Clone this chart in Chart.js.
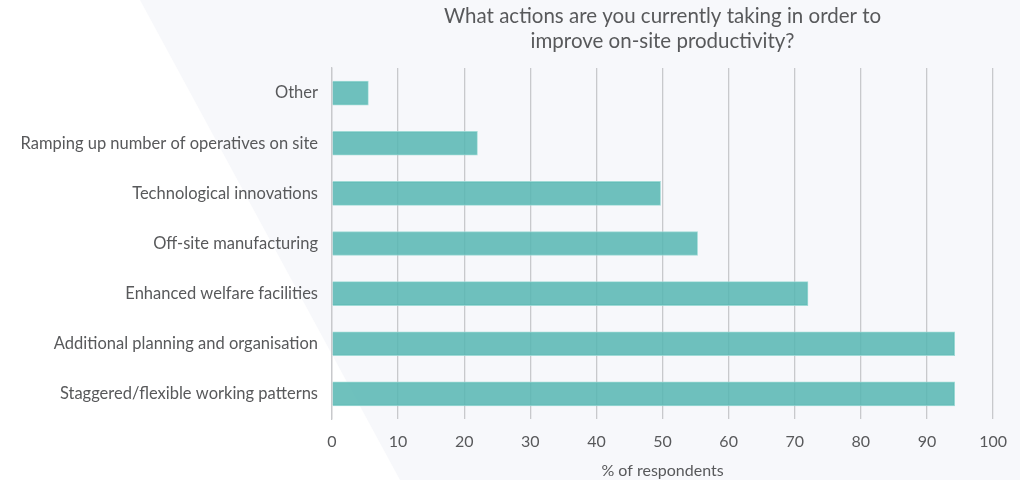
<!DOCTYPE html>
<html>
<head>
<meta charset="utf-8">
<script src="https://cdn.jsdelivr.net/npm/chart.js@4/dist/chart.umd.min.js"></script>
<style>
  html, body { margin: 0; padding: 0; background: #f7f8fb; }
  #wrap { width: 1020px; height: 480px; }
</style>
</head>
<body>
<div id="wrap"><canvas id="actionsChart" width="1020" height="480"></canvas></div>
<script>
const categories = [
  'Other',
  'Ramping up number of operatives on site',
  'Technological innovations',
  'Off-site manufacturing',
  'Enhanced welfare facilities',
  'Additional planning and organisation',
  'Staggered/flexible working patterns',
];
const respondents = [5.5, 22, 49.7, 55.3, 72, 94.2, 94.2];
const xTicks = [0, 10, 20, 30, 40, 50, 60, 70, 80, 90, 100];

const textColor = '#58595b';
const gridColor = '#c8c9cc';

// soft white wedge behind the chart, like the source slide
const backdrop = {
  id: 'backdrop',
  beforeDraw(chart) {
    const { ctx, width, height } = chart;
    ctx.save();
    ctx.fillStyle = '#f7f8fb';
    ctx.fillRect(0, 0, width, height);
    ctx.fillStyle = '#ffffff';
    ctx.beginPath();
    ctx.moveTo(0, 0);
    ctx.lineTo(140, 0);
    ctx.lineTo(400, height);
    ctx.lineTo(0, height);
    ctx.closePath();
    ctx.fill();
    ctx.restore();
  },
};

new Chart(document.getElementById('actionsChart'), {
  type: 'bar',
  data: {
    labels: categories,
    datasets: [
      {
        data: respondents,
        backgroundColor: 'rgba(86, 182, 177, 0.85)',
        borderColor: 'rgba(150, 214, 210, 0.9)',
        borderWidth: 1,
        barThickness: 24,
      },
    ],
  },
  options: {
    indexAxis: 'y',
    responsive: false,
    animation: false,
    layout: { padding: { left: 0, right: 0, top: 0, bottom: 0 } },
    plugins: {
      legend: { display: false },
      tooltip: { enabled: false },
      title: {
        display: true,
        fullSize: false,
        text: ['What actions are you currently taking in order to', 'improve on-site productivity?'],
        color: textColor,
        font: { family: 'Lato', size: 20.5, weight: 'normal', lineHeight: 1.22 },
        padding: { top: 4, bottom: 14 },
      },
    },
    scales: {
      x: {
        min: 0,
        max: 100,
        afterBuildTicks(scale) {
          scale.ticks = xTicks.map((v) => ({ value: v }));
        },
        afterFit(scale) {
          scale.height = 61;
        },
        grid: { color: gridColor, lineWidth: 1.3, drawTicks: false },
        border: { display: false },
        ticks: {
          color: textColor,
          padding: 13,
          font: { family: 'Lato', size: 16 },
        },
        title: {
          display: true,
          text: '% of respondents',
          color: textColor,
          font: { family: 'Lato', size: 16 },
          padding: { top: 4, bottom: 0 },
        },
      },
      y: {
        afterFit(scale) {
          scale.width = 332;
        },
        grid: { display: false, drawTicks: false },
        border: { display: true, color: gridColor, width: 1.3 },
        ticks: {
          color: textColor,
          padding: 14,
          font: { family: 'Lato', size: 16.5 },
        },
      },
    },
  },
  plugins: [backdrop],
});
</script>
</body>
</html>
